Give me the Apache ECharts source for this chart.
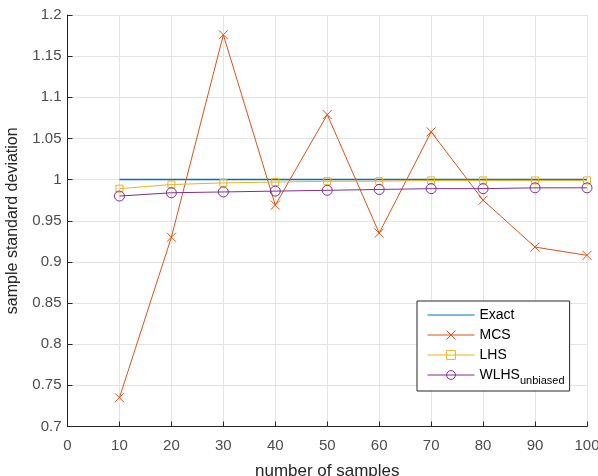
<!DOCTYPE html>
<html>
<head>
<meta charset="utf-8">
<script src="https://cdn.jsdelivr.net/npm/echarts@6/dist/echarts.min.js"></script>
<style>
  html, body { margin: 0; padding: 0; background: #fff; }
  #chart { width: 598px; height: 476px; }
</style>
</head>
<body>
<div id="chart"></div>
<script>
// ----------------------
// DATA
// ----------------------
const samples = [10, 20, 30, 40, 50, 60, 70, 80, 90, 100];
const exact = [1, 1, 1, 1, 1, 1, 1, 1, 1, 1];
const mcs = [0.735, 0.93, 1.176, 0.969, 1.079, 0.935, 1.058, 0.975, 0.918, 0.908];
const lhs = [0.989, 0.994, 0.996, 0.997, 0.998, 0.998, 0.999, 0.999, 0.999, 0.999];
const wlhs = [0.98, 0.984, 0.985, 0.986, 0.987, 0.988, 0.989, 0.989, 0.99, 0.99];

const font = "Liberation Sans";
const pairs = (ys) => samples.map((x, i) => [x, ys[i]]);
const clear = "rgba(0,0,0,0)";

// ----------------------
// CHART
// ----------------------
const chart = echarts.init(document.getElementById("chart"));

chart.setOption({
  animation: false,
  textStyle: { fontFamily: font },
  grid: {
    left: 67.5,
    right: 11,
    top: 15,
    bottom: 49.5,
    containLabel: false,
    outerBoundsMode: "none",
  },
  legend: {
    orient: "vertical",
    left: 417,
    top: 301,
    padding: [7, 5, 5, 10],
    itemWidth: 47,
    itemHeight: 11,
    itemGap: 6,
    borderColor: "#262626",
    borderWidth: 1,
    backgroundColor: "#fff",
    borderRadius: 0,
    lineStyle: { width: 1 },
    itemStyle: { borderWidth: 1 },
    textStyle: {
      fontFamily: font,
      fontSize: 14,
      color: "#000",
      rich: {
        sub: { fontSize: 11, color: "#000", padding: [11, 0, 0, 0], fontFamily: font },
      },
    },
    formatter: (name) => (name === "WLHS" ? "WLHS{sub|unbiased}" : name),
    data: [
      { name: "Exact", itemStyle: { color: clear, borderColor: clear } },
      { name: "MCS" },
      { name: "LHS" },
      { name: "WLHS" },
    ],
  },
  xAxis: {
    type: "value",
    min: 0,
    max: 100,
    interval: 10,
    name: "number of samples",
    nameLocation: "middle",
    nameGap: 36,
    nameTextStyle: { fontSize: 17, color: "#262626", fontFamily: font },
    axisLine: { lineStyle: { color: "#262626", width: 1 } },
    axisTick: { inside: true, length: 5, lineStyle: { color: "#262626" } },
    axisLabel: { fontSize: 15, color: "#4d4d4d", margin: 12, fontFamily: font },
    splitLine: { lineStyle: { color: "#e3e3e3", width: 1 } },
  },
  yAxis: {
    type: "value",
    min: 0.7,
    max: 1.2,
    interval: 0.05,
    name: "sample standard deviation",
    nameLocation: "middle",
    nameGap: 47,
    nameRotate: 90,
    nameTextStyle: { fontSize: 16, color: "#262626", fontFamily: font },
    axisLine: { show: true, lineStyle: { color: "#262626", width: 1 } },
    axisTick: { show: true, inside: true, length: 5, lineStyle: { color: "#262626" } },
    axisLabel: {
      fontSize: 15,
      color: "#4d4d4d",
      margin: 6,
      fontFamily: font,
      formatter: (v) => String(parseFloat(v.toFixed(2))),
    },
    splitLine: { lineStyle: { color: "#e3e3e3", width: 1 } },
  },
  series: [
    {
      name: "Exact",
      type: "line",
      data: pairs(exact),
      symbol: "none",
      lineStyle: { color: "#0072BD", width: 1.5 },
      itemStyle: { color: "#0072BD" },
    },
    {
      name: "MCS",
      type: "line",
      data: pairs(mcs),
      symbol: "path://M0,0L10,10M10,0L0,10",
      symbolSize: 9,
      lineStyle: { color: "#D95319", width: 1 },
      itemStyle: { color: clear, borderColor: "#D95319", borderWidth: 1 },
    },
    {
      name: "LHS",
      type: "line",
      data: pairs(lhs),
      symbol: "rect",
      symbolSize: 7,
      lineStyle: { color: "#EDB120", width: 1 },
      itemStyle: { color: clear, borderColor: "#EDB120", borderWidth: 1 },
    },
    {
      name: "WLHS",
      type: "line",
      data: pairs(wlhs),
      symbol: "circle",
      symbolSize: 10,
      lineStyle: { color: "#7E2F8E", width: 1 },
      itemStyle: { color: clear, borderColor: "#7E2F8E", borderWidth: 1 },
    },
  ],
});
</script>
</body>
</html>
